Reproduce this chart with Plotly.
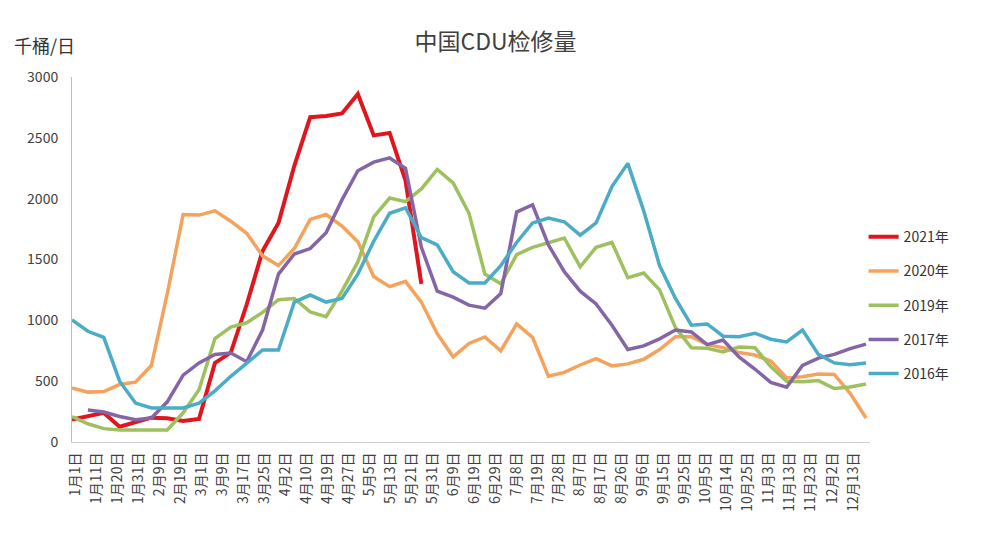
import plotly.graph_objects as go

# ---- data ----
tick_labels = ["1月1日", "1月11日", "1月20日", "1月31日", "2月9日", "2月19日", "3月1日", "3月9日",
               "3月17日", "3月25日", "4月2日", "4月10日", "4月19日", "4月27日", "5月5日", "5月13日",
               "5月21日", "5月31日", "6月9日", "6月19日", "6月29日", "7月8日", "7月19日", "7月28日",
               "8月7日", "8月17日", "8月26日", "9月6日", "9月15日", "9月25日", "10月5日", "10月14日",
               "10月25日", "11月3日", "11月13日", "11月23日", "12月2日", "12月13日"]

week = list(range(51))

y2021 = [185, 215, 240, 125, 160, 200, 195, 172, 190, 650, 735, 1130, 1570, 1800, 2270, 2670,
         2680, 2700, 2860, 2520, 2540, 2150, 1300]

y2020 = [445, 410, 415, 472, 492, 630, 1220, 1870, 1865, 1900, 1815, 1715, 1530, 1450, 1590, 1830,
         1870, 1775, 1645, 1360, 1277, 1320, 1150, 890, 700, 810, 863, 750, 970, 860, 540, 572,
         633, 686, 625, 642, 680, 760, 865, 865, 800, 776, 735, 715, 665, 526, 536, 559, 555, 400, 197]

y2019 = [208, 150, 110, 99, 99, 99, 99, 240, 430, 850, 945, 980, 1065, 1170, 1180, 1069,
         1030, 1240, 1480, 1850, 2005, 1975, 2080, 2240, 2130, 1880, 1380, 1300, 1540, 1600, 1640, 1677,
         1440, 1600, 1640, 1350, 1389, 1250, 940, 775, 770, 740, 780, 775, 620, 500, 495, 505, 440, 452, 477]

y2017 = [None, 263, 247, 210, 183, 197, 330, 550, 650, 720, 731, 660, 920, 1380, 1545, 1590,
         1720, 1990, 2230, 2300, 2335, 2250, 1600, 1240, 1190, 1125, 1100, 1220, 1890, 1950, 1620, 1400,
         1240, 1135, 960, 760, 790, 848, 920, 905, 800, 838, 700, 600, 490, 450, 630, 690, 720, 767, 805]

y2016 = [1003, 910, 860, 500, 320, 280, 280, 280, 320, 420, 540, 650, 756, 756, 1150, 1208,
         1150, 1180, 1380, 1650, 1880, 1925, 1680, 1620, 1400, 1307, 1307, 1450, 1640, 1800, 1840, 1810,
         1700, 1800, 2100, 2290, 1900, 1450, 1180, 960, 970, 870, 865, 894, 845, 822, 920, 720, 650, 635, 650]

series = [
    ("2021年", y2021, "#e0161e", 4),
    ("2020年", y2020, "#f5a25d", 3.5),
    ("2019年", y2019, "#9fc05f", 3.5),
    ("2017年", y2017, "#8466a6", 3.5),
    ("2016年", y2016, "#4bacc6", 3.5),
]

FONT = "Noto Sans CJK SC"

fig = go.Figure()
for i, (name, vals, color, w) in enumerate(series):
    fig.add_trace(go.Scatter(
        x=week[:len(vals)], y=vals, mode="lines", name=name,
        line=dict(color=color, width=w), legendgroup=str(i),
        connectgaps=False,
    ))

n_lab = len(tick_labels)
first_pos, last_pos = 0.19, 49.18
tickvals = [first_pos + j * (last_pos - first_pos) / (n_lab - 1) for j in range(n_lab)]

fig.update_layout(
    width=985, height=548,
    margin=dict(l=64, r=123, t=69, b=114),
    paper_bgcolor="white", plot_bgcolor="white",
    font=dict(family=FONT, color="#404040"),
    title=dict(text="中国CDU检修量", x=0.495, xref="container", y=0.938, yanchor="middle",
               xanchor="center", font=dict(size=23, color="#404040", family=FONT)),
    showlegend=True,
    legend=dict(x=0.992, xanchor="left", y=0.605, yanchor="top",
                font=dict(size=14, color="#333333", family=FONT),
                tracegroupgap=13, itemwidth=30, bgcolor="rgba(0,0,0,0)"),
    xaxis=dict(range=[0, 50.25], tickmode="array", tickvals=tickvals, ticktext=tick_labels,
               tickangle=-90, tickfont=dict(size=14, color="#404040", family=FONT),
               showgrid=False, zeroline=False, showline=True, linecolor="#d0d0d0", linewidth=1,
               ticks="", ticklabelstandoff=4),
    yaxis=dict(range=[0, 3000], tickmode="array", tickvals=[0, 500, 1000, 1500, 2000, 2500, 3000],
               tickfont=dict(size=14, color="#404040", family=FONT),
               showgrid=False, zeroline=False, showline=True, linecolor="#bfbfbf", linewidth=1,
               ticks="", ticklabelstandoff=10),
    annotations=[dict(text="千桶/日", xref="paper", yref="paper", x=-0.035, y=1.088,
                      showarrow=False, font=dict(size=18, color="#333333", family=FONT),
                      xanchor="center", yanchor="middle")],
)

fig.write_html("out.html")
